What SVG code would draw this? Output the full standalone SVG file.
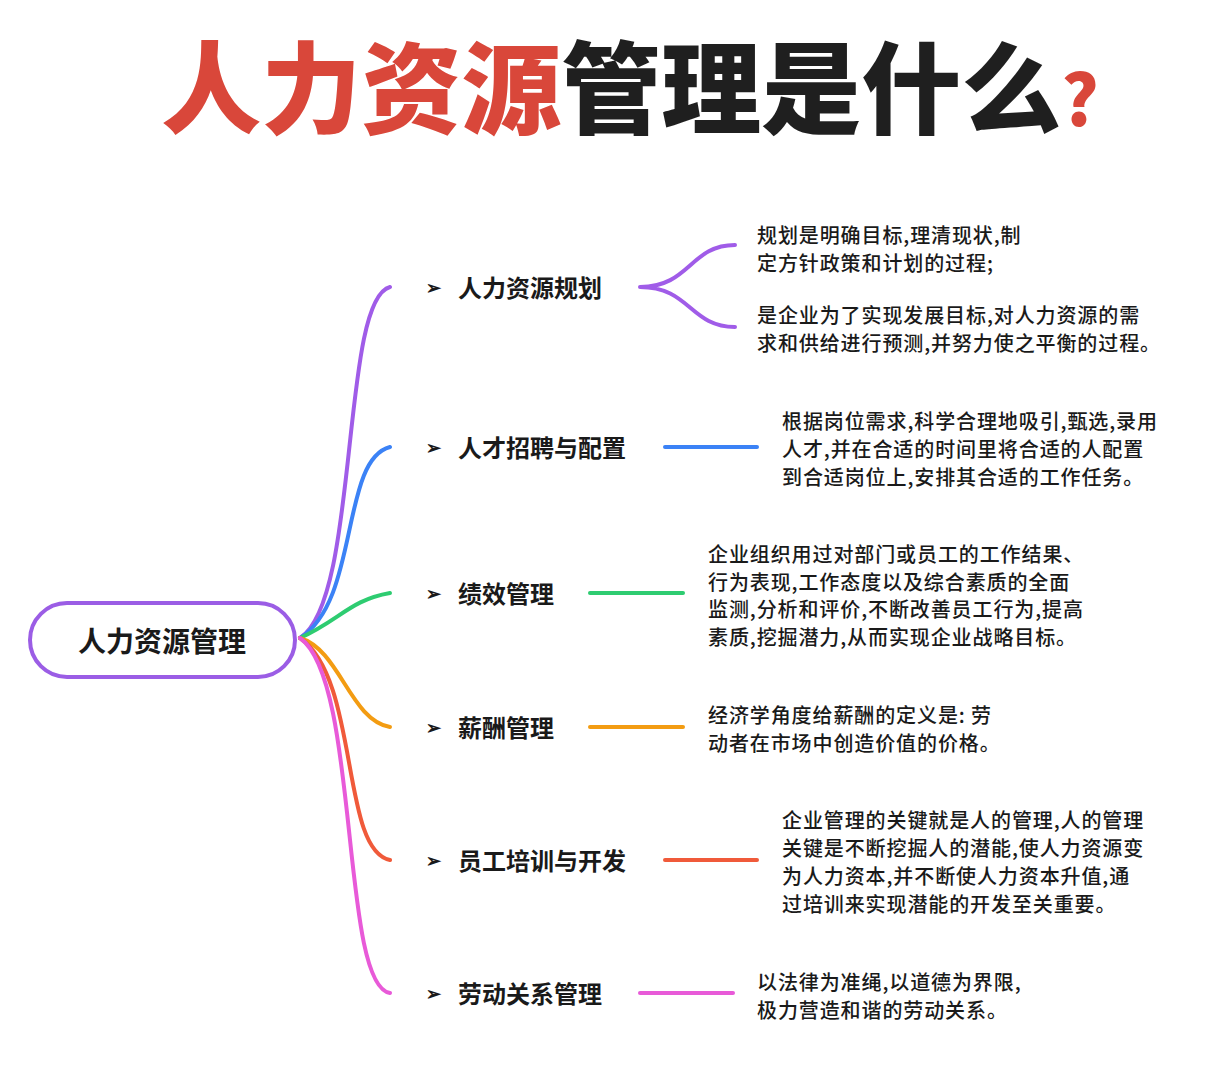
<svg xmlns="http://www.w3.org/2000/svg" width="1208" height="1080" viewBox="0 0 1208 1080">
<style>
text{font-family:"Noto Sans CJK SC","Noto Sans",sans-serif;fill:#1a1a1a}
.t{font-size:100px;font-weight:900}
.lb{font-size:24px;font-weight:700}
.ar{font-size:18px;font-weight:700}
.d{font-size:20px;font-weight:500;letter-spacing:0.9px}
.c{fill:none;stroke-width:4;stroke-linecap:round}
</style>
<rect width="1208" height="1080" fill="#fff"/>
<g id="title"><text x="630" y="126" text-anchor="middle" class="t"><tspan fill="#d9473a">人力资源</tspan><tspan fill="#1f1f1f">管理是什么</tspan><tspan fill="#d9473a" font-size="70">?</tspan></text></g>
<g id="connectors">
<path class="c" stroke="#a05ce8" d="M300,638 C360,600 340,300 390,287"/>
<path class="c" stroke="#3b82f6" d="M300,638 C360,600 340,460 390,447"/>
<path class="c" stroke="#2ecc71" d="M300,638 C340,620 350,600 390,593"/>
<path class="c" stroke="#f39c12" d="M300,638 C340,650 350,720 390,727"/>
<path class="c" stroke="#f05a3a" d="M300,638 C360,680 340,850 390,860"/>
<path class="c" stroke="#e85ad8" d="M300,638 C360,680 340,985 390,993"/>
<path class="c" stroke="#a05ce8" d="M640,287 C690,287 690,245 735,245 M640,287 C690,287 690,327 735,327"/>
<path class="c" stroke="#3b82f6" d="M665,447 H757"/>
<path class="c" stroke="#2ecc71" d="M590,593 H683"/>
<path class="c" stroke="#f39c12" d="M590,727 H683"/>
<path class="c" stroke="#f05a3a" d="M665,860 H757"/>
<path class="c" stroke="#e85ad8" d="M640,993 H733"/>
</g>
<g id="root"><rect x="30" y="603" width="265" height="74" rx="37" fill="#fff" stroke="#9b5de5" stroke-width="4"/><text x="162" y="652" text-anchor="middle" font-size="28" font-weight="700">人力资源管理</text></g>
<g id="n1"><text x="426" y="294" class="ar">➢</text><text x="458" y="297" class="lb">人力资源规划</text></g>
<g id="n2"><text x="426" y="454" class="ar">➢</text><text x="458" y="457" class="lb">人才招聘与配置</text></g>
<g id="n3"><text x="426" y="600" class="ar">➢</text><text x="458" y="603" class="lb">绩效管理</text></g>
<g id="n4"><text x="426" y="734" class="ar">➢</text><text x="458" y="737" class="lb">薪酬管理</text></g>
<g id="n5"><text x="426" y="867" class="ar">➢</text><text x="458" y="870" class="lb">员工培训与开发</text></g>
<g id="n6"><text x="426" y="1000" class="ar">➢</text><text x="458" y="1003" class="lb">劳动关系管理</text></g>
<g id="d1"><text x="757" y="243" class="d">规划是明确目标,理清现状,制</text><text x="757" y="271" class="d">定方针政策和计划的过程;</text><text x="757" y="323" class="d">是企业为了实现发展目标,对人力资源的需</text><text x="757" y="351" class="d">求和供给进行预测,并努力使之平衡的过程。</text></g>
<g id="d2"><text x="782" y="429" class="d">根据岗位需求,科学合理地吸引,甄选,录用</text><text x="782" y="457" class="d">人才,并在合适的时间里将合适的人配置</text><text x="782" y="485" class="d">到合适岗位上,安排其合适的工作任务。</text></g>
<g id="d3"><text x="708" y="562" class="d">企业组织用过对部门或员工的工作结果、</text><text x="708" y="590" class="d">行为表现,工作态度以及综合素质的全面</text><text x="708" y="617" class="d">监测,分析和评价,不断改善员工行为,提高</text><text x="708" y="645" class="d">素质,挖掘潜力,从而实现企业战略目标。</text></g>
<g id="d4"><text x="708" y="723" class="d">经济学角度给薪酬的定义是: 劳</text><text x="708" y="751" class="d">动者在市场中创造价值的价格。</text></g>
<g id="d5"><text x="782" y="828" class="d">企业管理的关键就是人的管理,人的管理</text><text x="782" y="856" class="d">关键是不断挖掘人的潜能,使人力资源变</text><text x="782" y="884" class="d">为人力资本,并不断使人力资本升值,通</text><text x="782" y="912" class="d">过培训来实现潜能的开发至关重要。</text></g>
<g id="d6"><text x="757" y="990" class="d">以法律为准绳,以道德为界限,</text><text x="757" y="1018" class="d">极力营造和谐的劳动关系。</text></g>
</svg>
